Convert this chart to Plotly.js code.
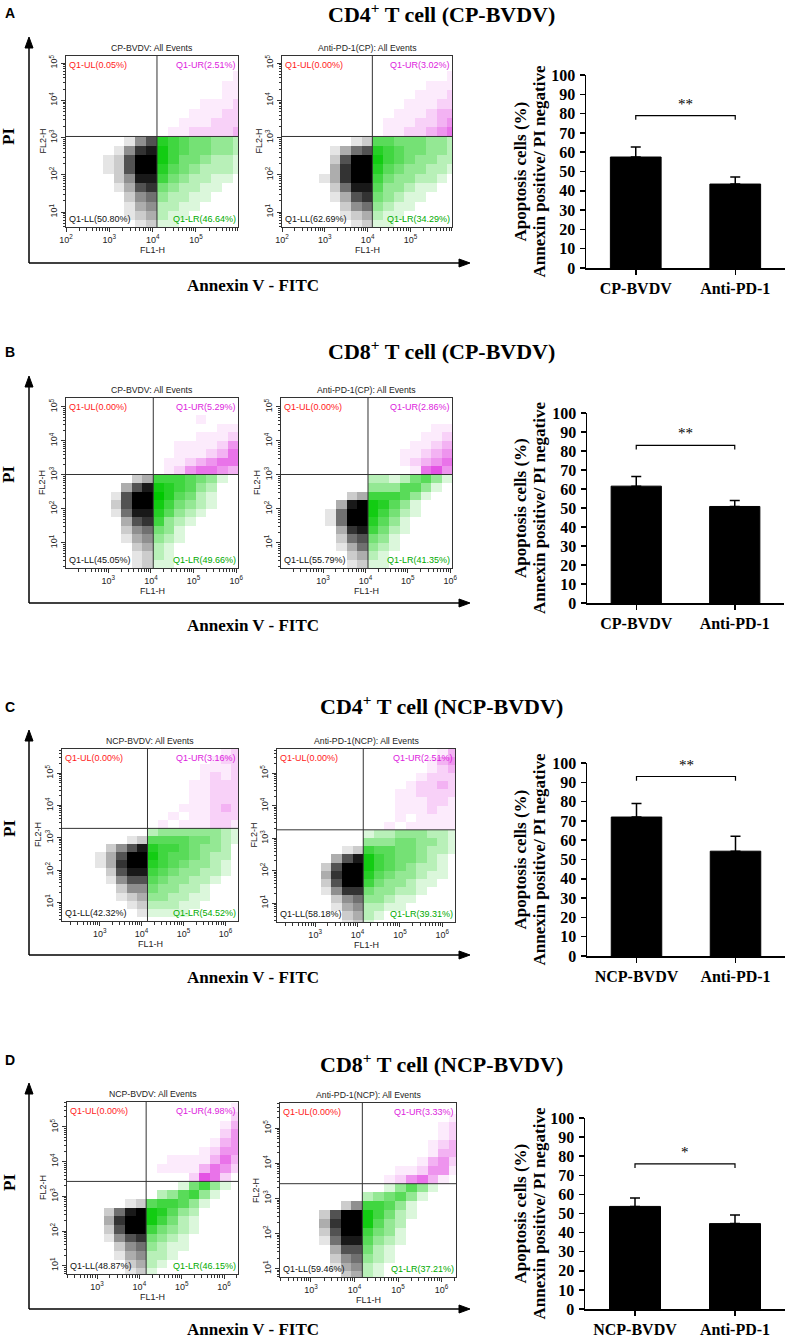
<!DOCTYPE html>
<html><head><meta charset="utf-8">
<script src="https://cdn.plot.ly/plotly-3.0.1.min.js"></script>
<style>html,body{margin:0;padding:0;background:#fff}#chart{width:788px;height:1339px}</style>
</head><body><div id="chart"></div>
<script>
// ================= DATA =================
const panelLetters = ['A', 'B', 'C', 'D'];
const panelTitles = [
  'CD4<sup>+</sup> T cell (CP-BVDV)',
  'CD8<sup>+</sup> T cell (CP-BVDV)',
  'CD4<sup>+</sup> T cell (NCP-BVDV)',
  'CD8<sup>+</sup> T cell (NCP-BVDV)'
];
const flowTitles = [
  'CP-BVDV: All Events', 'Anti-PD-1(CP): All Events',
  'CP-BVDV: All Events', 'Anti-PD-1(CP): All Events',
  'NCP-BVDV: All Events', 'Anti-PD-1(NCP): All Events',
  'NCP-BVDV: All Events', 'Anti-PD-1(NCP): All Events'
];
const quadUL = ['0.05', '0.00', '0.00', '0.00', '0.00', '0.00', '0.00', '0.00'];
const quadUR = ['2.51', '3.02', '5.29', '2.86', '3.16', '2.51', '4.98', '3.33'];
const quadLL = ['50.80', '62.69', '45.05', '55.79', '42.32', '58.18', '48.87', '59.46'];
const quadLR = ['46.64', '34.29', '49.66', '41.35', '54.52', '39.31', '46.15', '37.21'];
// gate positions (log10 of FL1-H / FL2-H)
const gateX = [4.10, 4.11, 4.055, 4.06, 4.14, 4.135, 4.16, 4.18];
const gateY = [3.03, 3.03, 3.01, 3.01, 3.29, 3.26, 3.43, 3.42];
// decade tick labels on FL1-H
const fl1Decades = [[2, 3, 4, 5], [3, 4, 5, 6], [3, 4, 5, 6], [3, 4, 5, 6]];
const fl2Decades = [1, 2, 3, 4, 5];
// event density grids (0-9), 0.25-decade cells, rows top->bottom:
// 10 rows above the FL2 gate then 12 below; 8 columns left of FL1 gate then 9 right.
const densA1 = [
"00000000 000000000","00000000 000000000","00000000 000000000","00000000 000000010",
"00000000 000000110","00000000 000000110","00000000 000011120","00000000 000111220",
"00000000 001112220","00000000 011222230",
"00000146 765443320","00001478 865443320","00012699 864432210","00012699 754322210",
"00002488 643221100","00001367 432211000","00000245 322110000","00000134 221100000",
"00000123 211000000","00000012 110000000","00000000 000000000","00000000 000000000"];
const densA2 = [
"00000000 000000000","00000000 000000000","00000000 000000000","00000000 000000010",
"00000000 000001110","00000000 000011120","00000000 000111220","00000000 001112330",
"00000000 011122340","00000000 011223450",
"00000012 554443320","00001356 765443320","00002699 865433220","00003799 754332210",
"00013799 643322100","00002588 533211000","00001367 432110000","00000245 321100000",
"00000123 211000000","00000012 110000000","00000000 000000000","00000000 000000000"];
const densB1 = [
"00000000 000000000","00000000 000000000","00000000 000000000","00000000 000010000",
"00000000 000000110","00000000 000011120","00000000 001111240","00000000 001112350",
"00000000 011234550","00000000 012455430",
"00000023 666543100","00000368 876532000","00001699 975421000","00002699 864321000",
"00001588 753210000","00000367 632100000","00000245 431000000","00000134 321000000",
"00000023 210000000","00000012 210000000","00000012 110000000","00000000 000000000"];
const densB2 = [
"00000000 000000000","00000000 000000000","00000000 000000000","00000000 000000000",
"00000000 000000110","00000000 000001120","00000000 000011230","00000000 000112340",
"00000000 000123450","00000000 000015640",
"00000000 221245310","00000000 333553100","00000023 666531000","00000389 875310000",
"00001599 864210000","00001599 753100000","00000378 642100000","00000256 431000000",
"00000135 321000000","00000023 210000000","00000012 110000000","00000000 000000000"];
const densC1 = [
"00000000 000000012","00000000 000000122","00000000 000001112","00000000 000001212",
"00000000 000011222","00000000 000011222","00000000 000011222","00000000 000111232",
"00000000 001011222","00000000 010111221",
"00000000 233333321","00000012 555544321","00002468 766543320","00013699 865543220",
"00013799 765433210","00002688 654332210","00001466 543322100","00000244 433221000",
"00000123 332211000","00000012 222110000","00000001 111100000","00000000 000000000"];
const densC2 = [
"00000000 000000013","00000000 000000134","00000000 000000123","00000000 000001222",
"00000000 000012232","00000000 000112222","00000000 000111221","00000000 000111211",
"00000000 000101111","00000000 001011111",
"00000000 122333221","00000000 333443321","00000012 655443221","00000368 865443210",
"00002699 865432210","00003799 754332110","00002699 643321100","00001477 433221000",
"00000245 332110000","00000134 221100000","00000023 210000000","00000012 100000000"];
const densD1 = [
"00000000 000000000","00000000 000000001","00000000 000000002","00000000 000000013",
"00000000 000000024","00000000 000000134","00000000 000001244","00000000 001111353",
"00000000 011113542","00000000 000026520",
"00000000 000146310","00000000 023563100","00000012 566531000","00002589 875320000",
"00003799 864210000","00002699 643210000","00001467 432100000","00000245 321100000",
"00000134 221000000","00000023 210000000","00000012 100000000","00000000 000000000"];
const densD2 = [
"00000000 000000000","00000000 000000000","00000000 000000001","00000000 000000012",
"00000000 000000012","00000000 000000123","00000000 000000133","00000000 000001342",
"00000000 000112441","00000000 001245310",
"00000000 001353100","00000000 234531000","00000024 665310000","00002699 864210000",
"00003799 853200000","00002699 643100000","00001588 532100000","00000366 421000000",
"00000245 321000000","00000134 210000000","00000023 210000000","00000000 000000000"];
const densities = [densA1, densA2, densB1, densB2, densC1, densC2, densD1, densD2];

const barCategories = [
  ['CP-BVDV', 'Anti-PD-1'], ['CP-BVDV', 'Anti-PD-1'],
  ['NCP-BVDV', 'Anti-PD-1'], ['NCP-BVDV', 'Anti-PD-1']
];
const barMeans = [[57.5, 43.5], [61.5, 50.8], [72.0, 54.3], [53.7, 44.7]];
const barErrors = [[5.2, 3.7], [5.1, 3.1], [7.0, 7.7], [4.4, 4.5]];
const sigHeight = [79, 83, 93, 76];
const sigStars = ['**', '**', '**', '*'];
const barTicks = [0, 10, 20, 30, 40, 50, 60, 70, 80, 90, 100];

// ================= LAYOUT (pixel geometry) =================
const W = 788, H = 1339;
const PX = v => v / W, PY = v => 1 - v / H;
const G = [
  {letterY: 13, titleY: 13, arrowTop: 37, axisY: 263, piY: 137, annexY: 285,
   flows: [[66, 238, 56, 227], [282, 452, 56, 227]], xr: [2, 5.97], yr: [0.6, 5.19], bar: [586, 785, 75, 268]},
  {letterY: 352, titleY: 350, arrowTop: 376, axisY: 603, piY: 475, annexY: 625,
   flows: [[66, 238, 398, 568], [281, 452, 398, 568]], xr: [2.01, 6.04], yr: [0.26, 5.26], bar: [587, 784, 413, 603]},
  {letterY: 707, titleY: 705, arrowTop: 730, axisY: 955, piY: 829, annexY: 977,
   flows: [[62, 238, 749, 921], [277, 455, 749, 922]], xr: [2.1, 6.3], yr: [0.42, 5.75], bar: [587, 785, 763, 956]},
  {letterY: 1060, titleY: 1063, arrowTop: 1083, axisY: 1309, piY: 1183, annexY: 1329,
   flows: [[67, 238, 1102, 1274], [280, 456, 1103, 1277]], xr: [2.29, 6.33], yr: [0.76, 5.72], bar: [585, 785, 1118, 1309]}
];

const SERIF = 'Liberation Serif, Times New Roman, serif';
const SANS = 'Liberation Sans, Arial, sans-serif';
const COL = {ll: '0,0,0', lr: '0,200,0', ur: '215,0,215'};
const ALPHA = {
  ll: [0, 0.1, 0.2, 0.32, 0.44, 0.56, 0.68, 0.8, 0.9, 1],
  lr: [0, 0.14, 0.28, 0.42, 0.54, 0.65, 0.75, 0.85, 0.93, 1],
  ur: [0, 0.08, 0.18, 0.3, 0.42, 0.55, 0.68, 0.8, 0.9, 1]
};

const traces = [];
const layout = {
  width: W, height: H, margin: {l: 0, r: 0, t: 0, b: 0},
  paper_bgcolor: '#fff', plot_bgcolor: 'rgba(0,0,0,0)', showlegend: false,
  annotations: [], shapes: []
};
const ax = (p, n) => (n === 1 ? p : p + n);

function minorVals(r) {
  const out = [];
  for (let d = Math.floor(r[0]) - 1; d <= Math.ceil(r[1]); d++)
    for (let m = 2; m <= 9; m++) { const v = d + Math.log10(m); if (v > r[0] && v < r[1]) out.push(v); }
  return out;
}
function parseGrid(rows) {
  return rows.map(r => r.replace(/\s/g, '').split('').map(Number)).reverse();
}
function quad(g, left, below) {
  return g.map((row, j) => row.map((v, c) => ((c < 8) === left && (j < 12) === below && v > 0) ? v : null));
}
function heat(n, xe, ye, z, key) {
  return {type: 'heatmap', x: xe, y: ye, z: z, xaxis: ax('x', n), yaxis: ax('y', n),
    zmin: 0, zmax: 9, showscale: false, hoverinfo: 'skip', zsmooth: false,
    colorscale: ALPHA[key].map((a, k) => [k / 9, 'rgba(' + COL[key] + ',' + a + ')'])};
}

G.forEach((g, p) => {
  const A = layout.annotations, S = layout.shapes;
  // panel letter and title
  A.push({xref: 'paper', yref: 'paper', x: PX(3), y: PY(g.letterY), xanchor: 'left', yanchor: 'middle',
    text: '<b>' + panelLetters[p] + '</b>', showarrow: false, font: {family: SANS, size: 14, color: '#000'}});
  A.push({xref: 'paper', yref: 'paper', x: PX(442), y: PY(g.titleY), xanchor: 'center', yanchor: 'middle',
    text: '<b>' + panelTitles[p] + '</b>', showarrow: false, font: {family: SERIF, size: 22, color: '#000'}});
  // big axes with arrows
  S.push({type: 'line', xref: 'paper', yref: 'paper', x0: PX(29), x1: PX(29), y0: PY(g.axisY), y1: PY(g.arrowTop + 8), line: {color: '#000', width: 1.5}});
  S.push({type: 'line', xref: 'paper', yref: 'paper', x0: PX(29), x1: PX(462), y0: PY(g.axisY), y1: PY(g.axisY), line: {color: '#000', width: 1.5}});
  S.push({type: 'path', xref: 'paper', yref: 'paper', fillcolor: '#000', line: {color: '#000', width: 1},
    path: 'M' + PX(25) + ',' + PY(g.arrowTop + 11) + ' L' + PX(29) + ',' + PY(g.arrowTop) + ' L' + PX(33) + ',' + PY(g.arrowTop + 11) + ' Z'});
  S.push({type: 'path', xref: 'paper', yref: 'paper', fillcolor: '#000', line: {color: '#000', width: 1},
    path: 'M' + PX(459) + ',' + PY(g.axisY - 4) + ' L' + PX(470) + ',' + PY(g.axisY) + ' L' + PX(459) + ',' + PY(g.axisY + 4) + ' Z'});
  A.push({xref: 'paper', yref: 'paper', x: PX(9), y: PY(g.piY), xanchor: 'center', yanchor: 'middle', textangle: -90,
    text: '<b>PI</b>', showarrow: false, font: {family: SERIF, size: 17, color: '#000'}});
  A.push({xref: 'paper', yref: 'paper', x: PX(253), y: PY(g.annexY), xanchor: 'center', yanchor: 'middle',
    text: '<b>Annexin V - FITC</b>', showarrow: false, font: {family: SERIF, size: 17, color: '#000'}});

  // two flow cytometry dot plots
  g.flows.forEach((b, k) => {
    const i = 2 * p + k, n = i + 1;
    const gx = gateX[i], gy = gateY[i];
    const xe = Array.from({length: 18}, (_, c) => gx + (c - 8) * 0.25);
    const ye = Array.from({length: 23}, (_, j) => gy + (j - 12) * 0.25);
    const grid = parseGrid(densities[i]);
    traces.push(heat(n, xe, ye, quad(grid, true, true), 'll'));
    traces.push(heat(n, xe, ye, quad(grid, false, true), 'lr'));
    traces.push(heat(n, xe, ye, quad(grid, false, false), 'ur'));
    const common = {showline: true, mirror: true, linecolor: '#333', linewidth: 1, showgrid: false, zeroline: false,
      ticks: 'outside', ticklen: 4, tickcolor: '#333', tickwidth: 1, tickfont: {family: SANS, size: 9, color: '#222'},
      tickmode: 'array', fixedrange: true};
    layout[ax('xaxis', n)] = Object.assign({}, common, {
      domain: [PX(b[0]), PX(b[1])], range: g.xr, anchor: ax('y', n),
      tickvals: fl1Decades[p], ticktext: fl1Decades[p].map(d => '10<sup>' + d + '</sup>'),
      minor: {tickmode: 'array', tickvals: minorVals(g.xr), ticks: 'outside', ticklen: 2.5, tickcolor: '#333', tickwidth: 1}
    });
    layout[ax('yaxis', n)] = Object.assign({}, common, {
      domain: [PY(b[3]), PY(b[2])], range: g.yr, anchor: ax('x', n), tickangle: -90,
      tickvals: fl2Decades, ticktext: fl2Decades.map(d => '10<sup>' + d + '</sup>'),
      minor: {tickmode: 'array', tickvals: minorVals(g.yr), ticks: 'outside', ticklen: 2.5, tickcolor: '#333', tickwidth: 1}
    });
    // quadrant gates
    S.push({type: 'line', xref: ax('x', n), yref: ax('y', n) + ' domain', x0: gx, x1: gx, y0: 0, y1: 1, line: {color: '#333', width: 1}});
    S.push({type: 'line', xref: ax('x', n) + ' domain', yref: ax('y', n), x0: 0, x1: 1, y0: gy, y1: gy, line: {color: '#333', width: 1}});
    const f = (c, s) => ({family: SANS, size: s || 9, color: c});
    A.push({xref: 'paper', yref: 'paper', x: PX((b[0] + b[1]) / 2), y: PY(b[2] - 8), xanchor: 'center', yanchor: 'middle',
      text: flowTitles[i], showarrow: false, font: f('#222', 8.7)});
    A.push({xref: 'paper', yref: 'paper', x: PX(b[0] + 1), y: PY(b[2] + 2), xanchor: 'left', yanchor: 'top',
      text: 'Q1-UL(' + quadUL[i] + '%)', showarrow: false, font: f('#ff1a1a')});
    A.push({xref: 'paper', yref: 'paper', x: PX(b[1]), y: PY(b[2] + 2), xanchor: 'right', yanchor: 'top',
      text: 'Q1-UR(' + quadUR[i] + '%)', showarrow: false, font: f('#dd22dd')});
    A.push({xref: 'paper', yref: 'paper', x: PX(b[0] + 1), y: PY(b[3] - 1), xanchor: 'left', yanchor: 'bottom',
      text: 'Q1-LL(' + quadLL[i] + '%)', showarrow: false, font: f('#111')});
    A.push({xref: 'paper', yref: 'paper', x: PX(b[1]), y: PY(b[3] - 1), xanchor: 'right', yanchor: 'bottom',
      text: 'Q1-LR(' + quadLR[i] + '%)', showarrow: false, font: f('#00aa00')});
    A.push({xref: 'paper', yref: 'paper', x: PX((b[0] + b[1]) / 2), y: PY(b[3] + 23), xanchor: 'center', yanchor: 'middle',
      text: 'FL1-H', showarrow: false, font: f('#222')});
    A.push({xref: 'paper', yref: 'paper', x: PX(b[0] - 24), y: PY((b[2] + b[3]) / 2), xanchor: 'center', yanchor: 'middle',
      textangle: -90, text: 'FL2-H', showarrow: false, font: f('#222')});
  });

  // bar chart
  const n = 9 + p, bb = g.bar, cats = barCategories[p];
  traces.push({type: 'bar', x: cats, y: barMeans[p], xaxis: ax('x', n), yaxis: ax('y', n), width: 0.51,
    marker: {color: '#000', line: {color: '#000', width: 1}}, hoverinfo: 'skip',
    error_y: {type: 'data', symmetric: false, array: barErrors[p], arrayminus: [0, 0], color: '#000', thickness: 1.5, width: 5}});
  const h = sigHeight[p];
  traces.push({type: 'scatter', mode: 'lines', x: [cats[0], cats[0], cats[1], cats[1]], y: [h - 2.2, h, h, h - 2.2],
    xaxis: ax('x', n), yaxis: ax('y', n), line: {color: '#000', width: 1.2}, hoverinfo: 'skip'});
  const bfont = s => ({family: SERIF, size: s, color: '#000', weight: 'bold'});
  layout[ax('xaxis', n)] = {domain: [PX(bb[0]), PX(bb[1])], anchor: ax('y', n), type: 'category', range: [-0.5, 1.5],
    showline: true, linecolor: '#000', linewidth: 1.5, ticks: 'outside', ticklen: 5, tickwidth: 1.5, tickcolor: '#000',
    tickfont: bfont(16), showgrid: false, zeroline: false, fixedrange: true};
  layout[ax('yaxis', n)] = {domain: [PY(bb[3]), PY(bb[2])], anchor: ax('x', n), range: [0, 100],
    tickmode: 'array', tickvals: barTicks, showline: true, linecolor: '#000', linewidth: 1.5,
    ticks: 'outside', ticklen: 5, tickwidth: 1.5, tickcolor: '#000', tickfont: bfont(16), ticklabelstandoff: 1,
    showgrid: false, zeroline: false, fixedrange: true};
  A.push({xref: ax('x', n), yref: ax('y', n), x: 0.5, y: h + 1, xanchor: 'center', yanchor: 'bottom',
    text: sigStars[p], showarrow: false, font: {family: SERIF, size: 15, color: '#000'}});
  const ymid = PY((bb[2] + bb[3]) / 2);
  A.push({xref: 'paper', yref: 'paper', x: PX(520), y: ymid, xanchor: 'center', yanchor: 'middle',
    textangle: -90, text: '<b>Apoptosis cells (%)</b>', showarrow: false, font: {family: SERIF, size: 17, color: '#000'}});
  A.push({xref: 'paper', yref: 'paper', x: PX(539), y: ymid, xanchor: 'center', yanchor: 'middle',
    textangle: -90, text: '<b>Annexin positive/ PI negative</b>', showarrow: false, font: {family: SERIF, size: 17, color: '#000'}});
});

Plotly.newPlot('chart', traces, layout, {displayModeBar: false, staticPlot: true});
</script>
</body></html>
